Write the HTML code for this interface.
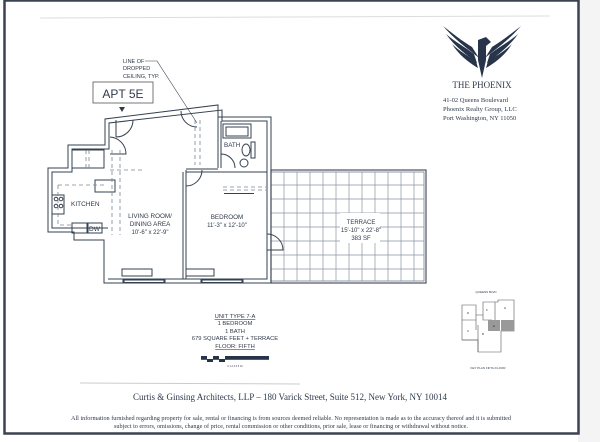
<!DOCTYPE html>
<html><head><meta charset="utf-8"><style>
html,body{margin:0;padding:0;background:#fff}
svg{display:block}
text{font-family:"Liberation Sans",sans-serif;fill:#2f3a4a}
.s{font-family:"Liberation Serif",serif}
</style></head><body>
<svg width="600" height="442" viewBox="0 0 600 442" xmlns="http://www.w3.org/2000/svg">
<rect width="600" height="442" fill="#fff"/>
<rect x="578" y="0" width="22" height="442" fill="#f4f4f4"/>
<rect x="4.5" y="0.5" width="574" height="433" fill="none" stroke="#3b4250" stroke-width="2.5"/>
<line x1="40" y1="18" x2="550" y2="16" stroke="#ddd" stroke-width="1"/>
<line x1="80" y1="383" x2="300" y2="384" stroke="#ccc" stroke-width="1"/>

<g stroke="#8a94a4" stroke-width="0.7" fill="none">
<rect x="271" y="170" width="155" height="113" stroke="#4a5464" stroke-width="1.2"/>
<rect x="271" y="172" width="153" height="109" stroke="#4a5464" stroke-width="0.6"/>
<path d="M284 172V281M297 172V281M310 172V281M323 172V281M336 172V281M349 172V281M362 172V281M375 172V281M388 172V281M401 172V281M414 172V281"/>
<path d="M271 185H424M271 199H424M271 213H424M271 227H424M271 241H424M271 255H424M271 269H424"/>
</g>
<rect x="340" y="213" width="40" height="30" fill="#fff"/>
<text x="361" y="224" font-size="6" text-anchor="middle">TERRACE</text>
<text x="361" y="232" font-size="6" text-anchor="middle">15'-10" x 22'-8"</text>
<text x="361" y="240" font-size="6" text-anchor="middle">383 SF</text>

<g fill="none" stroke="#36414f" stroke-width="1">
<path d="M104 283H271V117H218V105L105 119V145H68V168H48V232H74V240H104Z" fill="none"/>
<path d="M108 279H267V121H222V110L109 123V149H72V172H52V228H108"/>
<path d="M183 279V172M186 279V172H267M186 169H218"/>
<path d="M218 117V168M221 121V168"/>
<rect x="223" y="124" width="28" height="14"/>
<rect x="226" y="127" width="22" height="9"/>
<ellipse cx="246" cy="150" rx="4" ry="6"/>
<ellipse cx="244" cy="163" rx="4" ry="4"/>
<rect x="251" y="142" width="4" height="16"/>
<path d="M123 283V279M165 283V279M201 283V279M243 283V279"/>
<rect x="124" y="280" width="40" height="2.5"/>
<rect x="202" y="280" width="40" height="2.5"/>
<rect x="122" y="269" width="30" height="7"/>
<rect x="186" y="269" width="28" height="7"/>
<path d="M116 137V120M116 137A17 17 0 0 0 133 120"/>
<path d="M110 154H126A17 17 0 0 0 110 137"/>
<path d="M186 186V170M186 186A16 16 0 0 0 202 170"/>
<path d="M221 168V154M221 154A14 14 0 0 1 235 168"/>
<path d="M181 111A16 16 0 0 0 197 127"/>
<path d="M267 250H283A16 16 0 0 0 267 234"/>
<rect x="52" y="195" width="12" height="19"/>
<circle cx="56" cy="199" r="1.8"/><circle cx="61" cy="199" r="1.8"/>
<circle cx="56" cy="206" r="1.8"/><circle cx="61" cy="206" r="1.8"/>
<rect x="72" y="223" width="15" height="10"/>
<rect x="88" y="223" width="14" height="10"/>
<rect x="95" y="180" width="20" height="12"/>
<rect x="72" y="150" width="32" height="18"/>
</g>
<g fill="none" stroke="#7c8696" stroke-width="0.8" stroke-dasharray="4,3">
<path d="M112 150V235M120 150V235"/>
<path d="M58 185H104M58 185V225H72"/>
<path d="M86 150V168M89 150V168"/>
<path d="M195 120V165M200 120V165"/>
<path d="M223 187H266M223 190H266"/>
<path d="M110 170H145"/>
</g>
<rect x="224" y="193" width="30" height="1" fill="#36414f"/>

<text x="71" y="206" font-size="6.5">KITCHEN</text>
<text x="89" y="231" font-size="6.5">DW</text>
<text x="150" y="218" font-size="6.3" text-anchor="middle">LIVING ROOM/</text>
<text x="150" y="226" font-size="6.3" text-anchor="middle">DINING AREA</text>
<text x="150" y="234" font-size="6" text-anchor="middle">10'-6" x 22'-9"</text>
<text x="227" y="219" font-size="6.3" text-anchor="middle">BEDROOM</text>
<text x="227" y="227" font-size="6" text-anchor="middle">11'-3" x 12'-10"</text>
<text x="224" y="147" font-size="6.3">BATH</text>

<text x="123" y="63" font-size="5.5">LINE OF</text>
<text x="123" y="70" font-size="5.5">DROPPED</text>
<text x="123" y="78" font-size="5.5">CEILING, TYP.</text>
<path d="M145 61H157L197 123" fill="none" stroke="#36414f" stroke-width="0.6"/>
<rect x="93" y="82" width="60" height="21" fill="#fff" stroke="#555" stroke-width="0.8"/>
<text x="123" y="98" font-size="12" text-anchor="middle">APT 5E</text>
<path d="M119 107H125L122 112Z" fill="#2f3a4a"/>

<g fill="#27344a">
<path d="M443 26C452 33 462 41 472 47L479 58C470 50 457 42 443 26Z"/>
<path d="M446 34C455 42 465 47 474 54L477 63C467 55 455 47 446 34Z"/>
<path d="M452 44C459 51 468 56 476 61L478 68C468 62 459 55 452 44Z"/>
<path d="M521 26C512 33 502 41 492 47L485 58C494 50 507 42 521 26Z"/>
<path d="M518 34C509 42 499 47 490 54L487 63C497 55 509 47 518 34Z"/>
<path d="M512 44C505 51 496 56 488 61L486 68C496 62 505 55 512 44Z"/>
<path d="M478 40L486 37L491 42L486 46L486 60L482 78L478 60Z"/>
</g>
<text x="482" y="88" class="s" font-size="9" text-anchor="middle">THE PHOENIX</text>
<text x="443" y="102" class="s" font-size="6.5">41-02 Queens Boulevard</text>
<text x="443" y="111" class="s" font-size="6.5">Phoenix Realty Group, LLC</text>
<text x="443" y="120" class="s" font-size="6.5">Port Washington, NY 11050</text>

<g font-size="5.8" text-anchor="middle">
<text x="235" y="318" text-decoration="underline">UNIT TYPE 7-A</text>
<text x="235" y="325">1 BEDROOM</text>
<text x="235" y="333">1 BATH</text>
<text x="235" y="340">679 SQUARE FEET + TERRACE</text>
<text x="235" y="348" text-decoration="underline">FLOOR: FIFTH</text>
</g>
<g fill="#27344a">
<rect x="201" y="356" width="6" height="3"/><rect x="207" y="359" width="6" height="3"/>
<rect x="213" y="356" width="6" height="3"/><rect x="219" y="359" width="6" height="3"/>
<rect x="225" y="356" width="6" height="3"/><rect x="231" y="356" width="38" height="3"/>
<rect x="201" y="359" width="68" height="0.8"/>
</g>
<text x="235" y="367" font-size="2.5" text-anchor="middle">0  1  2  3  4  5                                     10</text>

<g fill="none" stroke="#555" stroke-width="0.6">
<path d="M462 305H476V315H483V302H498V300H514V331H501V352H478V340H462Z"/>
<path d="M476 315V330M462 320H476M483 315V320H492M495 302V320M462 340H478M478 325V352"/>
</g>
<path d="M488 320H500V331H488Z" fill="#999"/><path d="M501 320H514V331H501Z" fill="#999"/>
<g font-size="3" text-anchor="middle">
<text x="486" y="293">QUEENS BLVD</text>
<text x="468" y="314">D</text><text x="487" y="311">F</text><text x="505" y="309">H</text>
<text x="468" y="332">C</text><text x="483" y="335">B</text><text x="494" y="327">E</text>
<text x="488" y="369">KEY PLAN FIFTH FLOOR</text>
</g>

<text x="290" y="400" class="s" font-size="9" text-anchor="middle">Curtis &amp; Ginsing Architects, LLP – 180 Varick Street, Suite 512, New York, NY 10014</text>
<text x="291" y="420" class="s" font-size="6.2" text-anchor="middle">All information furnished regarding property for sale, rental or financing is from sources deemed reliable. No representation is made as to the accuracy thereof and it is submitted</text>
<text x="291" y="428" class="s" font-size="6.2" text-anchor="middle">subject to errors, omissions, change of price, rental commission or other conditions, prior sale, lease or financing or withdrawal without notice.</text>
</svg>
</body></html>
